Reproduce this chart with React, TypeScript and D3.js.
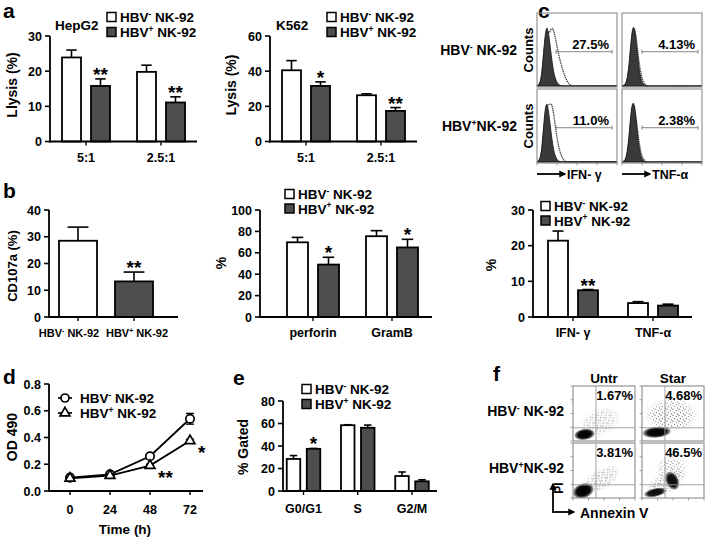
import React from "react";
import * as d3 from "d3";

const FONT = "'Liberation Sans', Arial, Helvetica, sans-serif";
const DARK = "#4e4e4e";

// ---------- panel a ----------
const lysisRatios = ["5:1", "2.5:1"];
const hepg2Ticks = [0, 10, 20, 30];
const hepg2Neg = [23.9, 19.8];
const hepg2NegErr = [2.1, 1.9];
const hepg2Pos = [15.8, 11.1];
const hepg2PosErr = [2.0, 1.6];
const hepg2Stars = ["**", "**"];
const k562Ticks = [0, 20, 40, 60];
const k562Neg = [40.5, 26.3];
const k562NegErr = [5.5, 0.8];
const k562Pos = [31.6, 17.4];
const k562PosErr = [2.3, 1.9];
const k562Stars = ["*", "**"];

// ---------- panel b ----------
const cd107Signs = ["-", "+"];
const cd107Ticks = [0, 10, 20, 30, 40];
const cd107Vals = [28.5, 13.3];
const cd107Err = [5.1, 3.5];
const cd107Stars = ["", "**"];
const granuleNames = ["perforin", "GramB"];
const granTicks = [0, 20, 40, 60, 80, 100];
const granNeg = [69.8, 75.5];
const granNegErr = [4.6, 5.2];
const granPos = [49, 65];
const granPosErr = [6.8, 7.6];
const granStars = ["*", "*"];

// ---------- panel c ----------
const cytoNames = ["IFN- γ", "TNF-α"];
const cytoTicks = [0, 10, 20, 30];
const cytoNeg = [21.4, 3.9];
const cytoNegErr = [2.7, 0.4];
const cytoPos = [7.5, 3.2];
const cytoPosErr = [0.2, 0.4];
const cytoStars = ["**", ""];

const flowRowSigns = ["-", "+"];
const flowColNames = ["IFN- γ", "TNF-α"];
const flowPercents = [["27.5%", "4.13%"], ["11.0%", "2.38%"]];
const flowTicks = [0, 1, 2, 3, 4];
const histLog = [0, 0.12, 0.24, 0.36, 0.48, 0.6, 0.72, 0.84, 0.96, 1.08, 1.2, 1.32, 1.44, 1.56, 1.7, 2.0, 4];
const ifnNegIso = [0, 2, 14, 62, 92, 74, 42, 18, 7, 2, 0, 0, 0, 0, 0, 0, 0];
const ifnNegStain = [0, 2, 12, 55, 84, 74, 86, 82, 64, 46, 32, 20, 11, 4, 0, 0, 0];
const tnfNegIso = [0, 1, 6, 30, 78, 92, 62, 26, 8, 2, 0, 0, 0, 0, 0, 0, 0];
const tnfNegStain = [0, 1, 5, 27, 72, 90, 70, 36, 15, 4, 1, 0, 0, 0, 0, 0, 0];
const ifnPosIso = [0, 2, 15, 66, 92, 70, 38, 15, 5, 1, 0, 0, 0, 0, 0, 0, 0];
const ifnPosStain = [0, 2, 12, 55, 86, 82, 88, 70, 42, 22, 10, 3, 0, 0, 0, 0, 0];
const tnfPosIso = [0, 1, 8, 38, 84, 90, 56, 22, 6, 1, 0, 0, 0, 0, 0, 0, 0];
const tnfPosStain = [0, 1, 7, 34, 80, 88, 62, 30, 11, 3, 0, 0, 0, 0, 0, 0, 0];
const flowGateLog = [[0.95, 3.75], [1.0, 3.8]];

// ---------- panel d ----------
const timePoints = [0, 24, 48, 72];
const odTicks = [0, 0.2, 0.4, 0.6, 0.8];
const odNeg = [0.1, 0.125, 0.26, 0.54];
const odNegErr = [0.01, 0.01, 0.015, 0.04];
const odPos = [0.095, 0.115, 0.19, 0.375];
const odPosErr = [0.008, 0.008, 0.01, 0.012];
const odPosStars = ["", "", "**", "*"];

// ---------- panel e ----------
const phaseNames = ["G0/G1", "S", "G2/M"];
const phaseTicks = [0, 20, 40, 60, 80];
const phaseNeg = [28.5, 58.5, 13.3];
const phaseNegErr = [3, 0.4, 3.6];
const phasePos = [37.5, 56.2, 8.6];
const phasePosErr = [0.3, 2.4, 1.4];
const phaseStars = ["*", "", ""];

// ---------- panel f ----------
const apopCols = ["Untr", "Star"];
const apopRowSigns = ["-", "+"];
const apopPercents = [["1.67%", "4.68%"], ["3.81%", "46.5%"]];
const apopGate = [1.48, 0.96];
// [cx, cy, rx, ry, rotation, kind(1 = dense core, 0 = sparse), opacity] in log units
const apopNegUntr = [[1.7, 1.35, 1.5, 1.0, -25, 0, 0.7], [0.74, 0.48, 0.68, 0.42, -8, 1, 1]];
const apopNegStar = [[1.9, 1.9, 1.8, 1.25, 0, 0, 0.9], [0.95, 0.64, 0.95, 0.42, -5, 1, 1]];
const apopPosUntr = [[1.8, 1.35, 1.45, 0.8, -30, 0, 0.85], [0.66, 0.52, 0.72, 0.56, -20, 1, 1]];
const apopPosStar = [
  [1.5, 1.05, 1.5, 0.8, -30, 0, 1],
  [1.9, 2.1, 1.1, 1.0, 0, 0, 0.7],
  [0.85, 0.4, 0.75, 0.32, -12, 1, 0.95],
  [1.95, 1.25, 0.42, 0.72, -25, 1, 0.95],
];

type Series = { vals: number[]; errs: number[]; fill: string; fills?: string[] };

function HBV({ sign, fs, space = true }: { sign: string; fs: number; space?: boolean }) {
  const sh = fs * 0.38;
  return (
    <>
      HBV
      <tspan dy={-sh} fontSize={fs * 0.62}>{sign}</tspan>
      <tspan dy={sh} fontSize={fs}>{space ? " NK-92" : "NK-92"}</tspan>
    </>
  );
}

function Stars({ x, top, s, fs = 19 }: { x: number; top: number; s: string; fs?: number }) {
  if (!s) return null;
  return (
    <text x={x} y={top + 2} textAnchor="middle" fontSize={fs}>
      {s}
    </text>
  );
}

function YAxis({ x, y, ticks, fmt, fs = 12.5 }: { x: number; y: d3.ScaleLinear<number, number>; ticks: number[]; fmt?: (v: number) => string; fs?: number }) {
  const f = fmt || ((v: number) => String(v));
  const r = y.range();
  return (
    <g>
      <line x1={x} x2={x} y1={r[0] + 1} y2={r[1]} stroke="#000" strokeWidth={1.8} />
      {ticks.map((t) => (
        <g key={t}>
          <line x1={x - 5} x2={x} y1={y(t)} y2={y(t)} stroke="#000" strokeWidth={1.6} />
          <text x={x - 8} y={y(t) + 4.5} textAnchor="end" fontSize={fs}>
            {f(t)}
          </text>
        </g>
      ))}
    </g>
  );
}

function BarPanel(p: {
  axisX: number; baseY: number; topY: number; yMax: number; ticks: number[]; xEnd: number;
  c0: number; c1: number; labels: React.ReactNode[]; series: Series[]; barW: number; offset: number;
  stars: string[]; starSeries: number; labelY: number; labelFs?: number; labelShift?: number[];
}) {
  const y = d3.scaleLinear().domain([0, p.yMax]).range([p.baseY, p.topY]);
  const x = d3.scalePoint<number>().domain(d3.range(p.labels.length)).range([p.c0, p.c1]);
  const n = p.series.length;
  const off = (j: number) => (n === 1 ? 0 : j === 0 ? -p.offset : p.offset);
  const capW = Math.max(7, p.barW * 0.55);
  return (
    <g>
      {p.series.map((s, j) =>
        s.vals.map((v, i) => {
          const cx = (x(i) as number) + off(j);
          const top = y(v);
          const et = y(v + s.errs[i]);
          return (
            <g key={`${j}-${i}`}>
              {s.errs[i] > 0 && (
                <g stroke="#000" strokeWidth={1.6}>
                  <line x1={cx} x2={cx} y1={top} y2={et} />
                  <line x1={cx - capW / 2} x2={cx + capW / 2} y1={et} y2={et} />
                </g>
              )}
              <rect x={cx - p.barW / 2} y={top} width={p.barW} height={p.baseY - top} fill={s.fills ? s.fills[i] : s.fill} stroke="#000" strokeWidth={1.8} />
            </g>
          );
        })
      )}
      {p.stars.map((st, i) => {
        const s = p.series[p.starSeries];
        const cx = (x(i) as number) + off(p.starSeries);
        return <Stars key={i} x={cx} top={y(s.vals[i] + s.errs[i])} s={st} />;
      })}
      <YAxis x={p.axisX} y={y} ticks={p.ticks} />
      <line x1={p.axisX - 1} x2={p.xEnd} y1={p.baseY} y2={p.baseY} stroke="#000" strokeWidth={1.8} />
      {p.labels.map((l, i) => (
        <g key={i}>
          <line x1={x(i)} x2={x(i)} y1={p.baseY} y2={p.baseY + 4} stroke="#000" strokeWidth={1.4} />
          <text x={(x(i) as number) + (p.labelShift ? p.labelShift[i] : 0)} y={p.labelY} textAnchor="middle" fontSize={p.labelFs || 12.5}>
            {l}
          </text>
        </g>
      ))}
    </g>
  );
}

function Legend({ x, y, fs = 13.5, gap = 15 }: { x: number; y: number; fs?: number; gap?: number }) {
  return (
    <g>
      {[0, 1].map((i) => (
        <g key={i}>
          <rect x={x} y={y + i * gap - 8.5} width={9} height={9} fill={i === 0 ? "#fff" : DARK} stroke="#000" strokeWidth={1.5} />
          <text x={x + 13} y={y + i * gap + 1} fontSize={fs}>
            <HBV sign={i === 0 ? "-" : "+"} fs={fs} />
          </text>
        </g>
      ))}
    </g>
  );
}

function YTitle({ x, y, text, fs = 14 }: { x: number; y: number; text: string; fs?: number }) {
  return (
    <text transform={`translate(${x},${y}) rotate(-90)`} textAnchor="middle" fontSize={fs}>
      {text}
    </text>
  );
}

function FlowHist({ x0, y0, w, h, iso, stain, gate, pct, id, showTicks }: {
  x0: number; y0: number; w: number; h: number; iso: number[]; stain: number[]; gate: number[]; pct: string; id: string; showTicks: boolean;
}) {
  const xs = d3.scaleLinear().domain([0, 4]).range([x0, x0 + w]);
  const ys = d3.scaleLinear().domain([0, 100]).range([y0 + h - 1, y0 + h * 0.06]);
  const area = d3
    .area<number>()
    .x((_, i) => xs(histLog[i]))
    .y0(ys(0))
    .y1((d) => ys(d))
    .curve(d3.curveBasis);
  const gy = ys(50);
  return (
    <g>
      <clipPath id={id}>
        <rect x={x0} y={y0} width={w} height={h} />
      </clipPath>
      <g clipPath={`url(#${id})`}>
        <path d={area(stain) || ""} fill="#fff" stroke="#444" strokeWidth={1.3} strokeDasharray="1.4 0.7" />
        <path d={area(iso) || ""} fill="#3a3a3a" stroke="#111" strokeWidth={0.8} />
      </g>
      <rect x={x0} y={y0} width={w} height={h} fill="none" stroke="#8a8a8a" strokeWidth={1.1} />
      <g stroke="#777" strokeWidth={0.9}>
        <line x1={xs(gate[0])} x2={xs(gate[1])} y1={gy} y2={gy} />
        <line x1={xs(gate[0])} x2={xs(gate[0])} y1={gy - 2} y2={gy + 2} />
        <line x1={xs(gate[1])} x2={xs(gate[1])} y1={gy - 2} y2={gy + 2} />
      </g>
      <text x={xs(gate[1]) - 3} y={gy - 3} textAnchor="end" fontSize={13}>
        {pct}
      </text>
      {showTicks &&
        flowTicks.map((t) => (
          <line key={t} x1={xs(t)} x2={xs(t)} y1={y0 + h} y2={y0 + h + 2.5} stroke="#888" strokeWidth={0.8} />
        ))}
    </g>
  );
}

function FlowDot({ x0, y0, w, h, clusters, pct, id, bottomTicks }: {
  x0: number; y0: number; w: number; h: number; clusters: number[][]; pct: string; id: string; bottomTicks: boolean;
}) {
  const xs = d3.scaleLinear().domain([0, 4]).range([x0, x0 + w]);
  const ys = d3.scaleLinear().domain([0, 4]).range([y0 + h, y0]);
  const kx = w / 4;
  const ky = h / 4;
  return (
    <g>
      <clipPath id={id}>
        <rect x={x0} y={y0} width={w} height={h} />
      </clipPath>
      <g clipPath={`url(#${id})`}>
        {clusters.map((c, i) => (
          <ellipse
            key={i}
            cx={xs(c[0])}
            cy={ys(c[1])}
            rx={c[2] * kx}
            ry={c[3] * ky}
            transform={`rotate(${c[4]},${xs(c[0])},${ys(c[1])})`}
            fill={c[5] === 1 ? "url(#coreGrad)" : "url(#speckle)"}
            mask={c[5] === 1 ? undefined : "url(#fadeMask)"}
            opacity={c[6]}
          />
        ))}
      </g>
      <rect x={x0} y={y0} width={w} height={h} fill="none" stroke="#8a8a8a" strokeWidth={1.1} />
      <g stroke="#999" strokeWidth={0.9}>
        <line x1={xs(apopGate[0])} x2={xs(apopGate[0])} y1={y0} y2={y0 + h} />
        <line x1={x0} x2={x0 + w} y1={ys(apopGate[1])} y2={ys(apopGate[1])} />
      </g>
      <text x={x0 + w - 2} y={y0 + 14} textAnchor="end" fontSize={13}>
        {pct}
      </text>
      {flowTicks.map((t) => (
        <g key={t} stroke="#888" strokeWidth={0.8}>
          <line x1={x0 - 2.5} x2={x0} y1={ys(t)} y2={ys(t)} />
          {bottomTicks && <line x1={xs(t)} x2={xs(t)} y1={y0 + h} y2={y0 + h + 2.5} />}
        </g>
      ))}
    </g>
  );
}

function Arrow({ x1, y1, x2, y2 }: { x1: number; y1: number; x2: number; y2: number }) {
  return <line x1={x1} y1={y1} x2={x2} y2={y2} stroke="#000" strokeWidth={1.8} markerEnd="url(#arrowHead)" />;
}

function PanelD() {
  const x = d3.scaleLinear().domain([0, 72]).range([70, 190]);
  const y = d3.scaleLinear().domain([0, 0.8]).range([491, 384]);
  const line = d3
    .line<number>()
    .x((_, i) => x(timePoints[i]))
    .y((d) => y(d));
  const tri = d3.symbol().type(d3.symbolTriangle).size(42)() || "";
  const series = [
    { vals: odNeg, errs: odNegErr, marker: "circle" },
    { vals: odPos, errs: odPosErr, marker: "tri" },
  ];
  return (
    <g>
      {series.map((s, j) => (
        <g key={j}>
          <path d={line(s.vals) || ""} fill="none" stroke="#000" strokeWidth={1.8} />
          {s.vals.map((v, i) => (
            <g key={i} stroke="#000" strokeWidth={1.4}>
              <line x1={x(timePoints[i])} x2={x(timePoints[i])} y1={y(v - s.errs[i])} y2={y(v + s.errs[i])} />
              <line x1={x(timePoints[i]) - 4} x2={x(timePoints[i]) + 4} y1={y(v + s.errs[i])} y2={y(v + s.errs[i])} />
              <line x1={x(timePoints[i]) - 4} x2={x(timePoints[i]) + 4} y1={y(v - s.errs[i])} y2={y(v - s.errs[i])} />
              {s.marker === "circle" ? (
                <circle cx={x(timePoints[i])} cy={y(v)} r={4.2} fill="#fff" strokeWidth={1.7} />
              ) : (
                <path d={tri} transform={`translate(${x(timePoints[i])},${y(v)})`} fill="#fff" strokeWidth={1.7} />
              )}
            </g>
          ))}
        </g>
      ))}
      {odPosStars.map((s, i) =>
        s ? (
          <text key={i} x={x(timePoints[i]) + 8} y={y(odPos[i]) + 18} fontSize={19}>
            {s}
          </text>
        ) : null
      )}
      <YAxis x={49} y={y} ticks={odTicks} fmt={d3.format(".1f")} />
      <line x1={48} x2={203} y1={491} y2={491} stroke="#000" strokeWidth={1.8} />
      {timePoints.map((t) => (
        <g key={t}>
          <line x1={x(t)} x2={x(t)} y1={491} y2={495} stroke="#000" strokeWidth={1.4} />
          <text x={x(t)} y={514} textAnchor="middle" fontSize={12.5}>
            {t}
          </text>
        </g>
      ))}
      <text x={125} y={534} textAnchor="middle" fontSize={13.5}>
        Time (h)
      </text>
      <YTitle x={17} y={437} text="OD 490" />
      {/* legend */}
      <g stroke="#000" strokeWidth={1.7}>
        <line x1={58} x2={72} y1={398} y2={398} />
        <circle cx={65} cy={398} r={4} fill="#fff" />
        <line x1={58} x2={72} y1={413} y2={413} />
        <path d={tri} transform="translate(65,413)" fill="#fff" />
      </g>
      <text x={80} y={403} fontSize={13.5}>
        <HBV sign="-" fs={13.5} />
      </text>
      <text x={80} y={418} fontSize={13.5}>
        <HBV sign="+" fs={13.5} />
      </text>
    </g>
  );
}

export default function App() {
  const flowCols = [537, 622];
  const flowRows = [13, 89];
  const isoData = [[ifnNegIso, tnfNegIso], [ifnPosIso, tnfPosIso]];
  const stainData = [[ifnNegStain, tnfNegStain], [ifnPosStain, tnfPosStain]];
  const apopXs = [573, 642];
  const apopYs = [386, 443];
  const apopData = [[apopNegUntr, apopNegStar], [apopPosUntr, apopPosStar]];
  return (
    <svg
      width={708}
      height={538}
      viewBox="0 0 708 538"
      style={{ position: "absolute", left: 0, top: 0, background: "#fff" }}
      fontFamily={FONT}
      fontWeight="bold"
    >
      <defs>
        <radialGradient id="coreGrad">
          <stop offset="0%" stopColor="#000" stopOpacity={1} />
          <stop offset="62%" stopColor="#000" stopOpacity={0.96} />
          <stop offset="85%" stopColor="#111" stopOpacity={0.55} />
          <stop offset="100%" stopColor="#222" stopOpacity={0} />
        </radialGradient>
        <radialGradient id="fadeGrad">
          <stop offset="0%" stopColor="#fff" />
          <stop offset="65%" stopColor="#ccc" />
          <stop offset="100%" stopColor="#000" />
        </radialGradient>
        <mask id="fadeMask" maskContentUnits="objectBoundingBox">
          <rect x={0} y={0} width={1} height={1} fill="url(#fadeGrad)" />
        </mask>
        <pattern id="speckle" width={6} height={6} patternUnits="userSpaceOnUse">
          <circle cx={1} cy={1.2} r={0.6} fill="#222" />
          <circle cx={4.3} cy={2.6} r={0.55} fill="#333" />
          <circle cx={2.4} cy={4.6} r={0.6} fill="#333" />
          <circle cx={5.2} cy={5.3} r={0.5} fill="#444" />
          <circle cx={5.4} cy={0.4} r={0.45} fill="#555" />
          <circle cx={0.4} cy={3.3} r={0.4} fill="#555" />
        </pattern>
        <marker id="arrowHead" viewBox="0 0 10 10" refX={8} refY={5} markerWidth={4} markerHeight={4} orient="auto">
          <path d="M0,0 L10,5 L0,10 z" fill="#000" />
        </marker>
      </defs>
      <rect width={708} height={538} fill="#fff" />

      {/* panel letters */}
      <text x={3} y={18} fontSize={21}>a</text>
      <text x={3} y={198} fontSize={21}>b</text>
      <text x={538} y={18} fontSize={21}>c</text>
      <text x={3} y={384} fontSize={21}>d</text>
      <text x={233} y={385} fontSize={21}>e</text>
      <text x={493} y={381} fontSize={21}>f</text>

      {/* ---- a: HepG2 ---- */}
      <BarPanel
        axisX={50} baseY={141.5} topY={36} yMax={30} ticks={hepg2Ticks} xEnd={197}
        c0={86} c1={161} labels={lysisRatios}
        series={[{ vals: hepg2Neg, errs: hepg2NegErr, fill: "#fff" }, { vals: hepg2Pos, errs: hepg2PosErr, fill: DARK }]}
        barW={19} offset={14.5} stars={hepg2Stars} starSeries={1} labelY={162}
      />
      <text x={55} y={30} fontSize={13.5}>HepG2</text>
      <Legend x={107} y={21} />
      <YTitle x={17} y={85} text="Llysis (%)" />

      {/* ---- a: K562 ---- */}
      <BarPanel
        axisX={270} baseY={141.5} topY={36} yMax={60} ticks={k562Ticks} xEnd={417}
        c0={306} c1={381} labels={lysisRatios}
        series={[{ vals: k562Neg, errs: k562NegErr, fill: "#fff" }, { vals: k562Pos, errs: k562PosErr, fill: DARK }]}
        barW={19} offset={14.5} stars={k562Stars} starSeries={1} labelY={162}
      />
      <text x={276} y={30} fontSize={13.5}>K562</text>
      <Legend x={327} y={21} />
      <YTitle x={236} y={85} text="Lysis (%)" />

      {/* ---- b: CD107a ---- */}
      <BarPanel
        axisX={49} baseY={317} topY={210} yMax={40} ticks={cd107Ticks} xEnd={178}
        c0={78} c1={134}
        labels={cd107Signs.map((s) => <HBV key={s} sign={s} fs={11} />)}
        series={[{ vals: cd107Vals, errs: cd107Err, fill: "#fff", fills: ["#fff", DARK] }]}
        barW={38} offset={0} stars={cd107Stars} starSeries={0} labelY={337} labelFs={11} labelShift={[-9, 3]}
      />
      <YTitle x={17} y={266} text="CD107a (%)" fs={13} />

      {/* ---- b: perforin / GramB ---- */}
      <BarPanel
        axisX={260} baseY={317} topY={210} yMax={100} ticks={granTicks} xEnd={432}
        c0={313} c1={392} labels={granuleNames}
        series={[{ vals: granNeg, errs: granNegErr, fill: "#fff" }, { vals: granPos, errs: granPosErr, fill: DARK }]}
        barW={21} offset={15.5} stars={granStars} starSeries={1} labelY={337}
      />
      <Legend x={285} y={198} gap={14.5} />
      <YTitle x={226} y={263} text="%" />

      {/* ---- c: flow histograms ---- */}
      {flowRows.map((ry, r) =>
        flowCols.map((cx, c) => (
          <FlowHist
            key={`${r}-${c}`}
            x0={cx} y0={ry} w={80} h={74}
            iso={isoData[r][c]} stain={stainData[r][c]}
            gate={flowGateLog[c]} pct={flowPercents[r][c]}
            id={`fh${r}${c}`} showTicks={r === 1}
          />
        ))
      )}
      {flowRows.map((ry, r) => (
        <g key={r}>
          <text x={517} y={ry + 42} textAnchor="end" fontSize={14}>
            <HBV sign={flowRowSigns[r]} fs={14} space={r === 0} />
          </text>
          <YTitle x={533} y={ry + 37} text="Counts" fs={13} />
        </g>
      ))}
      {flowCols.map((cx, c) => (
        <g key={c}>
          <Arrow x1={cx} y1={174} x2={cx + 28} y2={174} />
          <text x={cx + 30} y={178.5} fontSize={12.5}>{flowColNames[c]}</text>
        </g>
      ))}

      {/* ---- c: cytokine bars ---- */}
      <BarPanel
        axisX={533} baseY={317} topY={210} yMax={30} ticks={cytoTicks} xEnd={692}
        c0={573} c1={653} labels={cytoNames}
        series={[{ vals: cytoNeg, errs: cytoNegErr, fill: "#fff" }, { vals: cytoPos, errs: cytoPosErr, fill: DARK }]}
        barW={20} offset={15} stars={cytoStars} starSeries={1} labelY={337}
      />
      <Legend x={541} y={210} gap={14.5} />
      <YTitle x={496} y={265} text="%" />

      {/* ---- d ---- */}
      <PanelD />

      {/* ---- e ---- */}
      <BarPanel
        axisX={283} baseY={491} topY={401} yMax={80} ticks={phaseTicks} xEnd={437}
        c0={303.5} c1={412} labels={phaseNames}
        series={[{ vals: phaseNeg, errs: phaseNegErr, fill: "#fff" }, { vals: phasePos, errs: phasePosErr, fill: DARK }]}
        barW={13.5} offset={10} stars={phaseStars} starSeries={1} labelY={513}
      />
      <Legend x={302} y={393} gap={15} />
      <YTitle x={248} y={447} text="% Gated" />

      {/* ---- f ---- */}
      {apopYs.map((ry, r) =>
        apopXs.map((cx, c) => (
          <FlowDot
            key={`${r}-${c}`}
            x0={cx} y0={ry} w={62} h={55}
            clusters={apopData[r][c]} pct={apopPercents[r][c]}
            id={`fd${r}${c}`} bottomTicks={r === 1}
          />
        ))
      )}
      {apopXs.map((cx, c) => (
        <text key={c} x={cx + 31} y={383} textAnchor="middle" fontSize={13.5}>
          {apopCols[c]}
        </text>
      ))}
      {apopYs.map((ry, r) => (
        <text key={r} x={564} y={ry + 30} textAnchor="end" fontSize={14}>
          <HBV sign={apopRowSigns[r]} fs={14} space={r === 0} />
        </text>
      ))}
      <Arrow x1={553} y1={512} x2={553} y2={484} />
      <Arrow x1={552} y1={512} x2={574} y2={512} />
      <text transform="translate(563,488) rotate(-90)" textAnchor="middle" fontSize={12}>PI</text>
      <text x={580} y={518} fontSize={14}>Annexin V</text>
    </svg>
  );
}
